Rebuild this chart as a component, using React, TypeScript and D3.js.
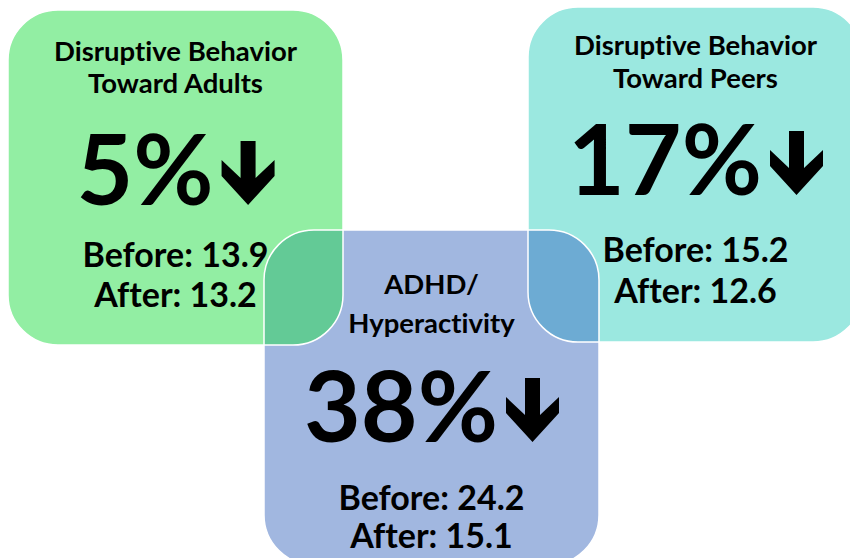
import { useEffect, useRef } from "react";
import * as d3 from "d3";

// chart values
const titleLines = [
  ["Disruptive Behavior", "Toward Adults"],
  ["ADHD/", "Hyperactivity"],
  ["Disruptive Behavior", "Toward Peers"],
];
const pctDecrease = [5, 38, 17];
const beforeScores = [13.9, 24.2, 15.2];
const afterScores = [13.2, 15.1, 12.6];

// layout of the three panels (baselines are offsets from panel top)
const panels = [
  { x: 8, y: 10, fill: "#92eea3", rows: [51, 83, 195, 257, 297] },
  { x: 264, y: 230, fill: "#a1b7e0", rows: [64, 103, 212, 280, 318] },
  { x: 528, y: 7, fill: "#9be8e0", rows: [48, 81, 188, 255, 296] },
];
const W = 850;
const H = 558;
const SIZE = 335;
const R = 50;
const FONT = "Lato, 'Open Sans', sans-serif";

// down arrow drawn in a 53x64 box
const arrowPts: [number, number][] = [
  [19, 0], [34, 0], [34, 37], [53, 19], [53, 35], [26.5, 64],
  [0, 35], [0, 19], [19, 37],
];

export default function App() {
  const ref = useRef<SVGSVGElement>(null);

  useEffect(() => {
    const svg = d3.select(ref.current);
    svg.selectAll("*").remove();

    const defs = svg.append("defs");
    panels.forEach((p, i) => {
      defs.append("clipPath").attr("id", "clip" + i)
        .append("rect")
        .attr("x", p.x).attr("y", p.y)
        .attr("width", SIZE).attr("height", SIZE)
        .attr("rx", R).attr("ry", R);
    });

    const order = [2, 0, 1];
    svg.selectAll("rect.panel")
      .data(order)
      .enter().append("rect")
      .attr("class", "panel")
      .attr("x", (i) => panels[i].x)
      .attr("y", (i) => panels[i].y)
      .attr("width", SIZE).attr("height", SIZE)
      .attr("rx", R).attr("ry", R)
      .attr("fill", (i) => panels[i].fill);

    // overlapping areas
    const overlaps = [
      { a: 0, b: 1, fill: "#63ca96" },
      { a: 2, b: 1, fill: "#6dabd3" },
    ];
    overlaps.forEach((o) => {
      const pa = panels[o.a];
      svg.append("g").attr("clip-path", `url(#clip${o.b})`)
        .append("rect")
        .attr("x", pa.x).attr("y", pa.y)
        .attr("width", SIZE).attr("height", SIZE)
        .attr("rx", R).attr("ry", R)
        .attr("fill", o.fill);
    });

    // thin white outlines
    svg.selectAll("rect.outline")
      .data(order)
      .enter().append("rect")
      .attr("class", "outline")
      .attr("x", (i) => panels[i].x)
      .attr("y", (i) => panels[i].y)
      .attr("width", SIZE).attr("height", SIZE)
      .attr("rx", R).attr("ry", R)
      .attr("fill", "none")
      .attr("stroke", "#ffffff")
      .attr("stroke-width", 1.5);

    const arrowLine = d3.line().curve(d3.curveLinearClosed);

    panels.forEach((p, i) => {
      const cx = p.x + SIZE / 2;
      const g = svg.append("g")
        .attr("font-family", FONT)
        .attr("font-weight", 700)
        .style("font-variant-ligatures", "none")
        .attr("fill", "#000");

      titleLines[i].forEach((t, k) => {
        g.append("text")
          .attr("x", cx).attr("y", p.y + p.rows[k])
          .attr("text-anchor", "middle")
          .attr("font-size", 27.5)
          .text(t);
      });

      const big = g.append("text")
        .attr("y", p.y + p.rows[2])
        .attr("font-size", 98)
        .text(pctDecrease[i] + "%");
      const tw = (big.node() as SVGTextElement).getComputedTextLength();
      const gap = 8;
      const total = tw + gap + 53;
      const x0 = cx - total / 2;
      big.attr("x", x0);
      g.append("path")
        .attr("transform", `translate(${x0 + tw + gap},${p.y + p.rows[2] - 64})`)
        .attr("d", arrowLine(arrowPts));

      g.append("text")
        .attr("x", cx).attr("y", p.y + p.rows[3])
        .attr("text-anchor", "middle")
        .attr("font-size", 34)
        .text("Before: " + beforeScores[i]);
      g.append("text")
        .attr("x", cx).attr("y", p.y + p.rows[4])
        .attr("text-anchor", "middle")
        .attr("font-size", 34)
        .text("After: " + afterScores[i]);
    });
  }, []);

  return (
    <svg
      ref={ref}
      width={W}
      height={H}
      style={{ position: "absolute", left: 0, top: 0, background: "#fff" }}
    />
  );
}
